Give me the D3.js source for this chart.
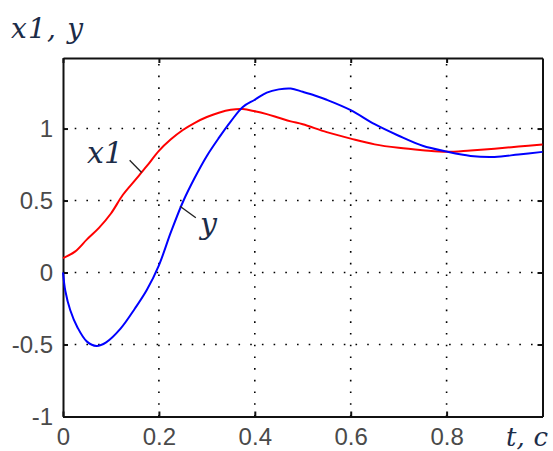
<!DOCTYPE html>
<html>
<head>
<meta charset="utf-8">
<script src="https://cdn.jsdelivr.net/npm/d3@7"></script>
<style>
  body { margin: 0; background: #fff; }
  svg { display: block; }
</style>
</head>
<body>
<div id="chart"></div>
<script>
// curve x1 (red)
const tX1 = [0, 0.025, 0.05, 0.075, 0.1, 0.125, 0.15, 0.175, 0.2, 0.225, 0.25, 0.275, 0.3, 0.325, 0.35, 0.375, 0.4, 0.425, 0.45, 0.475, 0.5, 0.55, 0.6, 0.65, 0.7, 0.75, 0.8, 0.85, 0.9, 0.95, 1.0]
const x1Vals = [0.10, 0.145, 0.23, 0.31, 0.41, 0.54, 0.64, 0.74, 0.845, 0.925, 0.99, 1.04, 1.08, 1.11, 1.13, 1.135, 1.12, 1.10, 1.075, 1.05, 1.03, 0.975, 0.93, 0.89, 0.866, 0.85, 0.838, 0.848, 0.86, 0.875, 0.89]

// curve y (blue)
const tY = [0, 0.005, 0.015, 0.03, 0.05, 0.07, 0.09, 0.12, 0.15, 0.175, 0.2, 0.225, 0.25, 0.275, 0.3, 0.325, 0.35, 0.375, 0.4, 0.425, 0.45, 0.475, 0.5, 0.525, 0.55, 0.6, 0.65, 0.7, 0.75, 0.8, 0.85, 0.9, 0.95, 1.0]
const yVals = [0, -0.13, -0.26, -0.38, -0.48, -0.51, -0.485, -0.39, -0.25, -0.12, 0.05, 0.28, 0.49, 0.66, 0.81, 0.935, 1.05, 1.15, 1.2, 1.25, 1.272, 1.278, 1.255, 1.23, 1.2, 1.128, 1.03, 0.95, 0.88, 0.84, 0.81, 0.803, 0.82, 0.838]

const xTicks = [0, 0.2, 0.4, 0.6, 0.8]
const yTicks = [-1, -0.5, 0, 0.5, 1]

const width = 553, height = 451
const margin = ({ top: 58, right: 10.5, bottom: 34.5, left: 63 })

var svg = d3.select("#chart")
  .append("svg")
    .attr("width", width)
    .attr("height", height)

var x = d3.scaleLinear()
  .domain([0, 1])
  .range([margin.left, width - margin.right])

var y = d3.scaleLinear()
  .domain([-1, 1.49])
  .range([height - margin.bottom, margin.top])

// dotted grid
svg.append("g")
  .selectAll("line")
  .data(xTicks.filter(d => d > 0))
  .enter().append("line")
    .attr("x1", d => x(d)).attr("x2", d => x(d))
    .attr("y1", y.range()[0]).attr("y2", y.range()[1])
    .attr("stroke", "#000")
    .attr("stroke-width", 1.6)
    .attr("stroke-dasharray", "1.6,10.1")

svg.append("g")
  .selectAll("line")
  .data(yTicks.filter(d => d > -1))
  .enter().append("line")
    .attr("y1", d => y(d)).attr("y2", d => y(d))
    .attr("x1", x.range()[0]).attr("x2", x.range()[1])
    .attr("stroke", "#000")
    .attr("stroke-width", 1.6)
    .attr("stroke-dasharray", "1.6,10.1")

// axes on all four sides, ticks pointing inward (plain hyphen for minus, like the original)
const fmt = d => String(d)
svg.append("g")
  .attr("transform", "translate(0," + y.range()[0] + ")")
  .call(d3.axisBottom(x).tickValues(xTicks).tickFormat(fmt).tickSizeInner(-5).tickSizeOuter(0).tickPadding(11))

svg.append("g")
  .attr("transform", "translate(0," + y.range()[1] + ")")
  .call(d3.axisTop(x).tickValues(xTicks).tickFormat("").tickSizeInner(-5).tickSizeOuter(0))

svg.append("g")
  .attr("transform", "translate(" + x.range()[0] + ",0)")
  .call(d3.axisLeft(y).tickValues(yTicks).tickFormat(fmt).tickSizeInner(-5).tickSizeOuter(0).tickPadding(10))

svg.append("g")
  .attr("transform", "translate(" + x.range()[1] + ",0)")
  .call(d3.axisRight(y).tickValues(yTicks).tickFormat("").tickSizeInner(-5).tickSizeOuter(0))

svg.selectAll(".domain").attr("stroke", "#111").attr("stroke-width", 2)
svg.selectAll(".tick line").attr("stroke", "#111").attr("stroke-width", 2)
svg.selectAll(".tick text")
  .style("font-family", "Liberation Sans, Arial, sans-serif")
  .style("font-size", "24px")
  .attr("fill", "#4a4a4a")

// curves
var line = d3.line()
  .x(d => x(d[0]))
  .y(d => y(d[1]))
  .curve(d3.curveCatmullRom)

svg.append("path")
  .datum(d3.zip(tX1, x1Vals))
  .attr("fill", "none")
  .attr("stroke", "#ff0000")
  .attr("stroke-width", 2)
  .attr("d", line)

svg.append("path")
  .datum(d3.zip(tY, yVals))
  .attr("fill", "none")
  .attr("stroke", "#0000ff")
  .attr("stroke-width", 2)
  .attr("d", line)

// curve labels with leader lines
const labelFont = "DejaVu Serif, Liberation Serif, serif"
const labelColor = "#1c2c48"

svg.append("line")
  .attr("x1", x(0.139)).attr("y1", y(0.78))
  .attr("x2", x(0.164)).attr("y2", y(0.695))
  .attr("stroke", "#222").attr("stroke-width", 1.3)

svg.append("line")
  .attr("x1", x(0.244)).attr("y1", y(0.46))
  .attr("x2", x(0.277)).attr("y2", y(0.38))
  .attr("stroke", "#222").attr("stroke-width", 1.3)

svg.append("text")
  .attr("x", 87).attr("y", 163)
  .style("font-family", labelFont).style("font-style", "italic")
  .style("font-size", "30px").attr("fill", labelColor)
  .text("x1")

svg.append("text")
  .attr("x", 200).attr("y", 234)
  .style("font-family", labelFont).style("font-style", "italic")
  .style("font-size", "30px").attr("fill", labelColor)
  .text("y")

// axis titles
svg.append("text")
  .attr("x", 11).attr("y", 38)
  .style("font-family", labelFont).style("font-style", "italic")
  .style("font-size", "28px").attr("fill", labelColor)
  .attr("textLength", 72)
  .text("x1, y")

svg.append("text")
  .attr("x", 506).attr("y", 446)
  .style("font-family", labelFont).style("font-style", "italic")
  .style("font-size", "26px").attr("fill", labelColor)
  .attr("textLength", 42)
  .text("t, c")
</script>
</body>
</html>
